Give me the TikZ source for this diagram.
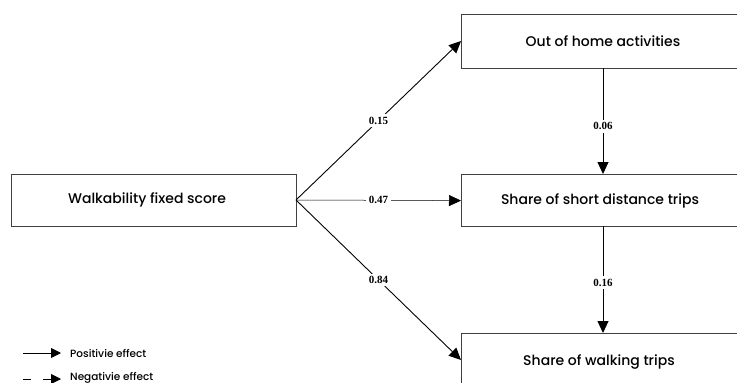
\documentclass[tikz,border=0pt]{standalone}
\usepackage{fontspec}
\setmainfont{Poppins Medium}
\newfontfamily\numfont{Liberation Serif}
\usetikzlibrary{arrows.meta}
\begin{document}
\begin{tikzpicture}[x=1pt,y=-1pt,
  box/.style={draw=black!75,line width=1.2pt,fill=white,rectangle,anchor=north west,inner sep=0pt},
  btext/.style={inner sep=0pt,font=\fontsize{14}{16}\selectfont},
  conn/.style={line width=0.9pt,-{Triangle[length=12pt,width=11pt]}},
  thinconn/.style={line width=0.5pt,-{Triangle[length=12pt,width=11pt]}},
  lbl/.style={fill=white,inner sep=2.5pt,font=\numfont\bfseries\fontsize{11}{13}\selectfont},
  legtext/.style={anchor=west,inner sep=0pt,font=\fontsize{10.5}{12}\selectfont}]
\useasboundingbox (0,0) rectangle (737,383);
\clip (0,0) rectangle (737,383);
\node[box,minimum width=285pt,minimum height=52pt] (w) at (11,174) {};
\node[btext] (wl) at (147,200) {Walkability fixed score};
\node[box,minimum width=300pt,minimum height=54pt] (o) at (461,14) {};
\node[box,minimum width=300pt,minimum height=52pt] (s) at (461,174) {};
\node[box,minimum width=300pt,minimum height=70pt] (t) at (461,333) {};
\node[btext] (ol) at (603,41) {Out of home activities};
\node[btext] (sl) at (600,201) {Share of short distance trips};
\node[btext] (tl) at (599,362) {Share of walking trips};
\coordinate (src) at (296,200);
\coordinate (ot) at (461,41);
\coordinate (wt) at (461,360);
\coordinate (ob) at (603,68);
\coordinate (st) at (603,174);
\coordinate (sb) at (603,226);
\coordinate (tt) at (603,333);
\draw[conn] (src) -- node[lbl,pos=0.5] {0.15} (ot);
\draw[thinconn] (src) -- node[lbl,pos=0.5] {0.47} (s.west);
\draw[conn] (src) -- node[lbl,pos=0.5] {0.84} (wt);
\draw[conn] (ob) -- node[lbl,pos=0.55] {0.06} (st);
\draw[conn] (sb) -- node[lbl,pos=0.53] {0.16} (tt);
% legend
\coordinate (l1a) at (23,353);
\coordinate (l1b) at (61,353);
\coordinate (l2a) at (23,379);
\coordinate (l2b) at (61,379);
\draw[line width=0.9pt,-{Triangle[length=10pt,width=10pt]}] (l1a) -- (l1b);
\draw[line width=0.9pt,dash pattern=on 8pt off 12pt,-{Triangle[length=10pt,width=10pt]}] (l2a) -- (l2b);
\node[legtext] (p) at (70,353) {Positivie effect};
\node[legtext] (n) at (70,378) {Negativie effect};
\end{tikzpicture}
\end{document}
